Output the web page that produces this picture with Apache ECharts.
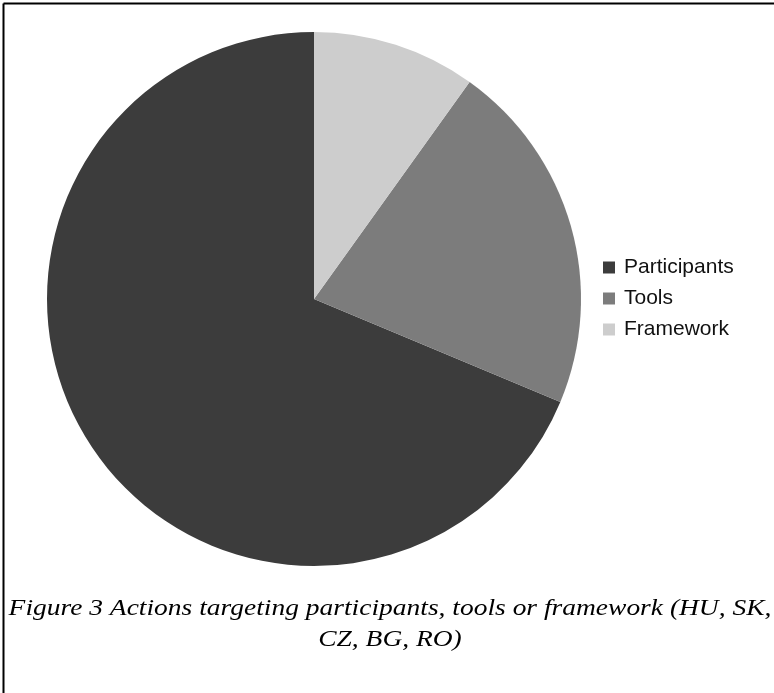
<!DOCTYPE html>
<html>
<head>
<meta charset="utf-8">
<script src="https://cdn.jsdelivr.net/npm/echarts@6/dist/echarts.min.js"></script>
<style>
html,body{margin:0;padding:0;background:#fff;}
#c{width:774px;height:693px;}
</style>
</head>
<body>
<div id="c"></div>
<script>
const categories = ["Participants", "Tools", "Framework"];
const values = [68.7, 21.4, 9.9];
const colors = ["#3c3c3c", "#7c7c7c", "#cdcdcd"];
const captionLines = ["Figure 3 Actions targeting participants, tools or framework (HU, SK,", "CZ, BG, RO)"];

const chart = echarts.init(document.getElementById('c'), null, {renderer: 'canvas'});
chart.setOption({
  backgroundColor: '#ffffff',
  animation: false,
  color: colors,
  legend: {
    orient: 'vertical',
    left: 603,
    top: 257,
    padding: 0,
    itemWidth: 12,
    itemHeight: 12,
    itemGap: 10,
    icon: 'rect',
    data: categories,
    textStyle: {fontFamily: 'Liberation Sans', fontSize: 21, lineHeight: 20, color: '#111', padding: [0,0,0,4]}
  },
  series: [{
    type: 'pie',
    center: [314, 299],
    radius: [0, 267],
    startAngle: 90,
    clockwise: false,
    label: {show: false},
    labelLine: {show: false},
    itemStyle: {borderWidth: 0},
    emphasis: {disabled: true},
    data: categories.map((c, i) => ({name: c, value: values[i]}))
  }],
  graphic: [
    {type: 'line', shape: {x1: 3.5, y1: 3.5, x2: 774, y2: 3.5}, style: {stroke: '#000', lineWidth: 2}},
    {type: 'line', shape: {x1: 3.5, y1: 3.5, x2: 3.5, y2: 693}, style: {stroke: '#000', lineWidth: 2}},
    {type: 'text', x: 390, y: 609, scaleX: 1.145, style: {text: captionLines[0], font: 'italic 24px "Liberation Serif"', fill: '#000', textAlign: 'center', textVerticalAlign: 'middle'}},
    {type: 'text', x: 390, y: 640, scaleX: 1.145, style: {text: captionLines[1], font: 'italic 24px "Liberation Serif"', fill: '#000', textAlign: 'center', textVerticalAlign: 'middle'}}
  ]
});
</script>
</body>
</html>
